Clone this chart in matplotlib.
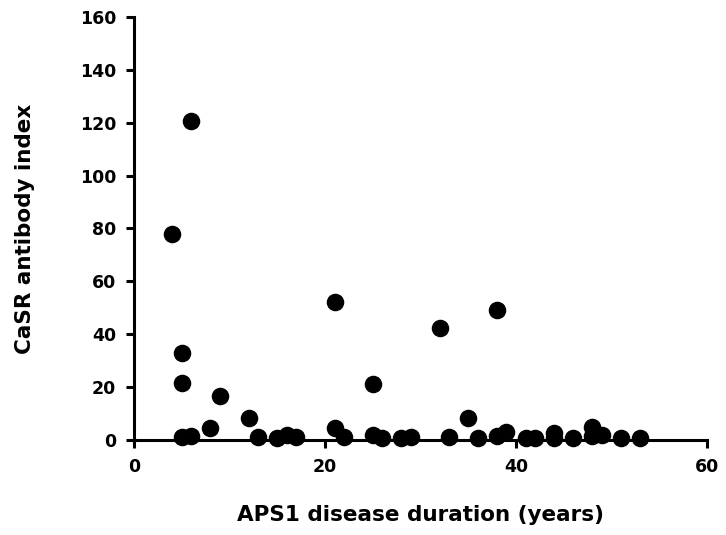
import matplotlib.pyplot as plt

duration = [4, 6, 5, 5, 5, 6, 8, 9, 12, 13, 15, 16, 17, 21, 21, 22, 25, 25, 26, 28, 29,
            32, 33, 35, 36, 38, 38, 39, 41, 42, 44, 44, 46, 48, 48, 49, 51, 53]
casr_index = [78, 120.5, 33, 21.5, 1, 1.5, 4.5, 16.5, 8.5, 1, 0.7, 2, 1, 52.2, 4.5, 1.2, 21, 2, 0.7, 0.8, 1,
              42.3, 1, 8.5, 0.8, 49, 1.5, 3, 0.7, 0.8, 2.5, 0.7, 0.8, 5, 1.5, 1.8, 0.8, 0.7]

plt.rcParams['font.family'] = ['DejaVu Sans']
plt.rcParams['font.weight'] = 'bold'

fig = plt.figure(figsize=(7.26, 5.35), dpi=100)
ax = fig.add_axes([0.1846, 0.1776, 0.7892, 0.7906])

ax.scatter(duration, casr_index, s=135, color='black', zorder=3, clip_on=False)

ax.set_xlim(0, 60)
ax.set_ylim(0, 160)
ax.set_xticks([0, 20, 40, 60])
ax.set_yticks(range(0, 161, 20))

for side in ['top', 'right']:
    ax.spines[side].set_visible(False)
for side in ['left', 'bottom']:
    ax.spines[side].set_linewidth(2.2)

ax.tick_params(axis='both', direction='out', length=6, width=2.2, labelsize=12.5, pad=7)
for lab in ax.get_xticklabels() + ax.get_yticklabels():
    lab.set_fontweight('bold')

ax.set_xlabel("APS1 disease duration (years)", fontsize=15.5, fontweight='bold', labelpad=21)
ax.set_ylabel("CaSR antibody index", fontsize=15.5, fontweight='bold', labelpad=32)

fig.savefig("out.png", dpi=100)
